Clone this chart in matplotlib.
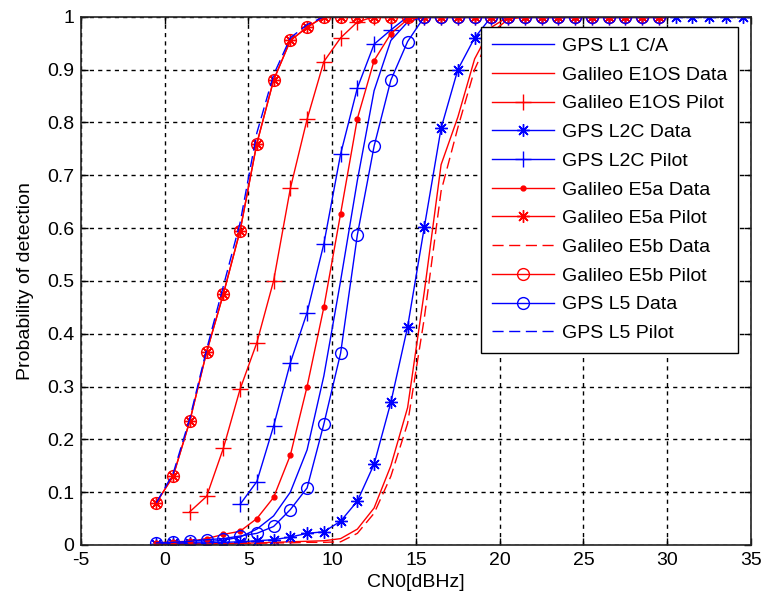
import matplotlib
matplotlib.use("Agg")
import matplotlib.pyplot as plt

plt.rcParams['font.family'] = ['Liberation Sans', 'DejaVu Sans']

# x grid (CN0, dBHz)
cn0 = [-0.5, 0.5, 1.5, 2.5, 3.5, 4.5, 5.5, 6.5, 7.5, 8.5, 9.5, 10.5, 11.5, 12.5,
       13.5, 14.5, 15.5, 16.5, 17.5, 18.5, 19.5, 20.5, 21.5, 22.5, 23.5, 24.5,
       25.5, 26.5, 27.5, 28.5, 29.5]
cn0_long = cn0 + [30.5, 31.5, 32.5, 33.5, 34.5]
cn0_e1os_pilot = cn0[2:]
cn0_l2c_pilot = cn0[5:]

gps_l1_ca = [0.003, 0.004, 0.005, 0.006, 0.009, 0.015, 0.03, 0.055, 0.1, 0.18, 0.32,
             0.5, 0.69, 0.86, 0.955, 0.99, 1.0, 1.0, 1.0, 1.0, 1.0, 1.0, 1.0, 1.0,
             1.0, 1.0, 1.0, 1.0, 1.0, 1.0, 1.0]
gal_e1os_data = [0.001, 0.001, 0.002, 0.002, 0.003, 0.003, 0.004, 0.005, 0.006, 0.007,
                 0.008, 0.012, 0.03, 0.07, 0.15, 0.26, 0.48, 0.72, 0.81, 0.92, 0.98,
                 1.0, 1.0, 1.0, 1.0, 1.0, 1.0, 1.0, 1.0, 1.0, 1.0]
gal_e1os_pilot = [0.063, 0.092, 0.183, 0.295, 0.383, 0.5, 0.675, 0.806, 0.915, 0.96,
                  0.99, 1.0, 1.0, 1.0, 1.0, 1.0, 1.0, 1.0, 1.0, 1.0, 1.0, 1.0, 1.0,
                  1.0, 1.0, 1.0, 1.0, 1.0, 1.0]
gps_l2c_data = [0.002, 0.003, 0.003, 0.004, 0.005, 0.006, 0.008, 0.01, 0.015, 0.022,
                0.025, 0.045, 0.083, 0.153, 0.27, 0.413, 0.602, 0.789, 0.9, 0.96,
                1.0, 1.0, 1.0, 1.0, 1.0, 1.0, 1.0, 1.0, 1.0, 1.0, 1.0, 1.0, 1.0,
                1.0, 1.0, 1.0]
gps_l2c_pilot = [0.077, 0.12, 0.225, 0.345, 0.44, 0.57, 0.74, 0.865, 0.948, 0.975,
                 1.0, 1.0, 1.0, 1.0, 1.0, 1.0, 1.0, 1.0, 1.0, 1.0, 1.0, 1.0, 1.0,
                 1.0, 1.0, 1.0]
gal_e5a_data = [0.004, 0.006, 0.007, 0.012, 0.02, 0.026, 0.05, 0.09, 0.17, 0.30, 0.45,
                0.627, 0.807, 0.917, 0.968, 0.995, 1.0, 1.0, 1.0, 1.0, 1.0, 1.0, 1.0,
                1.0, 1.0, 1.0, 1.0, 1.0, 1.0, 1.0, 1.0]
gal_e5a_pilot = [0.08, 0.13, 0.235, 0.365, 0.475, 0.595, 0.76, 0.88, 0.955, 0.98, 1.0,
                 1.0, 1.0, 1.0, 1.0, 1.0, 1.0, 1.0, 1.0, 1.0, 1.0, 1.0, 1.0, 1.0, 1.0,
                 1.0, 1.0, 1.0, 1.0, 1.0, 1.0]
gal_e5b_data = [0.001, 0.001, 0.001, 0.002, 0.002, 0.003, 0.003, 0.004, 0.004, 0.005,
                0.005, 0.006, 0.022, 0.06, 0.13, 0.23, 0.43, 0.67, 0.79, 0.9, 0.97,
                0.995, 1.0, 1.0, 1.0, 1.0, 1.0, 1.0, 1.0, 1.0, 1.0]
gal_e5b_pilot = [0.08, 0.13, 0.235, 0.365, 0.475, 0.595, 0.76, 0.88, 0.955, 0.98, 1.0,
                 1.0, 1.0, 1.0, 1.0, 1.0, 1.0, 1.0, 1.0, 1.0, 1.0, 1.0, 1.0, 1.0, 1.0,
                 1.0, 1.0, 1.0, 1.0, 1.0, 1.0]
gps_l5_data = [0.004, 0.005, 0.007, 0.01, 0.012, 0.017, 0.022, 0.035, 0.067, 0.108,
               0.229, 0.363, 0.587, 0.755, 0.88, 0.953, 1.0, 1.0, 1.0, 1.0, 1.0, 1.0,
               1.0, 1.0, 1.0, 1.0, 1.0, 1.0, 1.0, 1.0, 1.0]
gps_l5_pilot = [0.08, 0.135, 0.24, 0.37, 0.49, 0.61, 0.78, 0.89, 0.96, 0.985, 1.0,
                1.0, 1.0, 1.0, 1.0, 1.0, 1.0, 1.0, 1.0, 1.0, 1.0, 1.0, 1.0, 1.0, 1.0,
                1.0, 1.0, 1.0, 1.0, 1.0, 1.0]

x_ticks = [-5, 0, 5, 10, 15, 20, 25, 30, 35]
y_ticks = [0, 0.1, 0.2, 0.3, 0.4, 0.5, 0.6, 0.7, 0.8, 0.9, 1]
y_ticklabels = ['0', '0.1', '0.2', '0.3', '0.4', '0.5', '0.6', '0.7', '0.8', '0.9', '1']

labels = ['GPS L1 C/A', 'Galileo E1OS Data', 'Galileo E1OS Pilot', 'GPS L2C Data',
          'GPS L2C Pilot', 'Galileo E5a Data', 'Galileo E5a Pilot', 'Galileo E5b Data',
          'Galileo E5b Pilot', 'GPS L5 Data', 'GPS L5 Pilot']

BLUE = '#0000ff'
RED = '#ff0000'
AST = (8, 2, 0)
FS = 14

fig = plt.figure(figsize=(7.66, 6.06), dpi=100)
ax = fig.add_axes([0.1057, 0.1007, 0.8747, 0.8717])

lw = 1.0
ax.plot(cn0, gps_l1_ca, color=BLUE, lw=lw, label=labels[0])
ax.plot(cn0, gal_e1os_data, color=RED, lw=lw, label=labels[1])
ax.plot(cn0_e1os_pilot, gal_e1os_pilot, color=RED, lw=lw, marker='+', ms=11,
        mew=1.0, label=labels[2])
ax.plot(cn0_long, gps_l2c_data, color=BLUE, lw=lw, marker=AST, ms=9, mew=1.0,
        label=labels[3])
ax.plot(cn0_l2c_pilot, gps_l2c_pilot, color=BLUE, lw=lw, marker='+', ms=11,
        mew=1.0, label=labels[4])
ax.plot(cn0, gal_e5a_data, color=RED, lw=lw, marker='.', ms=7, label=labels[5])
ax.plot(cn0, gal_e5a_pilot, color=RED, lw=lw, marker=AST, ms=9, mew=1.0,
        label=labels[6])
ax.plot(cn0, gal_e5b_data, color=RED, lw=lw, ls=(0, (8, 4)), label=labels[7])
ax.plot(cn0, gal_e5b_pilot, color=RED, lw=lw, marker='o', ms=8.5, mew=1.0,
        mfc='none', label=labels[8])
ax.plot(cn0, gps_l5_data, color=BLUE, lw=lw, marker='o', ms=8.5, mew=1.0,
        mfc='none', label=labels[9])
ax.plot(cn0, gps_l5_pilot, color=BLUE, lw=lw, ls=(0, (8, 4)), label=labels[10])

ax.set_xlim(-5, 35)
ax.set_ylim(0, 1)
ax.set_xticks(x_ticks)
ax.set_xticklabels([str(t) for t in x_ticks])
ax.set_yticks(y_ticks)
ax.set_yticklabels(y_ticklabels)
ax.tick_params(direction='in', top=True, right=True, length=5, width=1,
               labelsize=FS, colors='black', pad=5)
ax.grid(True, color='black', ls=(0, (3, 3)), lw=1.0)
for s in ax.spines.values():
    s.set_linewidth(1.2)
    s.set_color('#222222')

ax.set_xlabel('CN0[dBHz]', fontsize=FS, labelpad=4)
ax.set_ylabel('Probability of detection', fontsize=FS, labelpad=9)

leg = ax.legend(loc='upper right', bbox_to_anchor=(0.981, 0.981),
                borderaxespad=0, fontsize=FS, frameon=True, fancybox=False,
                edgecolor='black', framealpha=1, handlelength=3.2,
                handletextpad=0.42, labelspacing=0.57, borderpad=0.55)
leg.get_frame().set_linewidth(1.0)

fig.savefig('out.png', dpi=100, facecolor='white')
